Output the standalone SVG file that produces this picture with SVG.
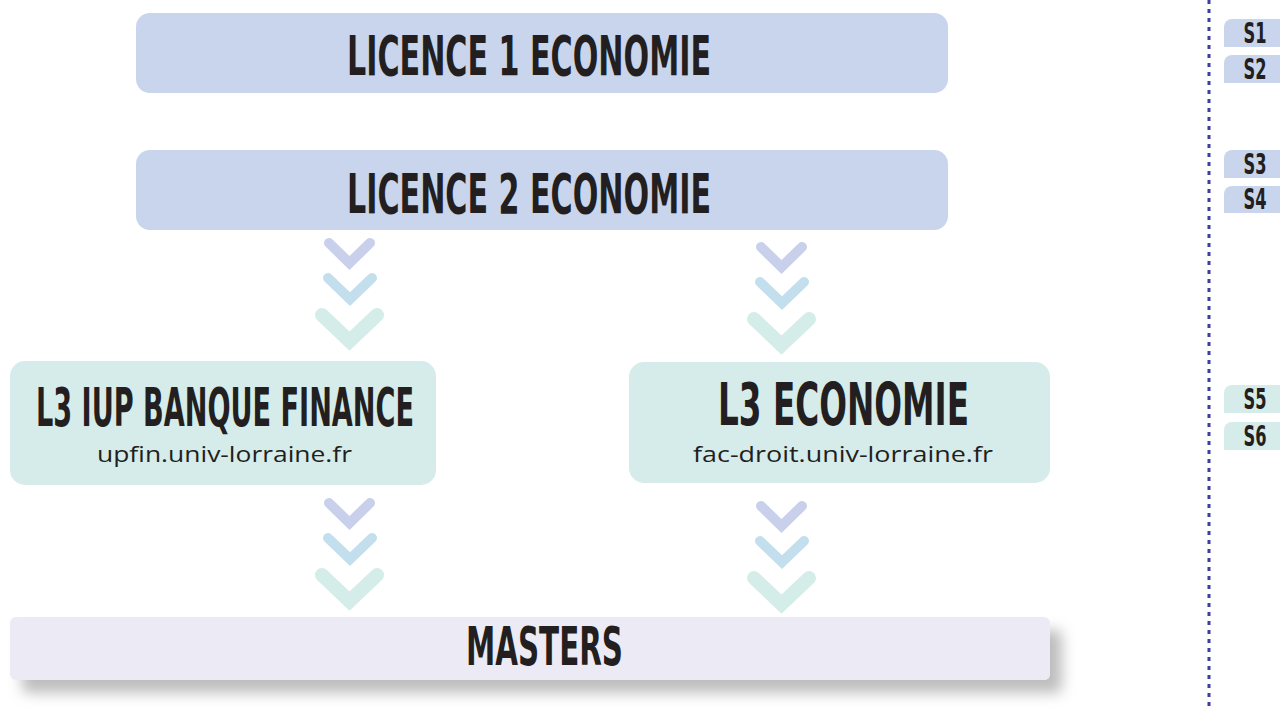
<svg xmlns="http://www.w3.org/2000/svg" width="1280" height="709" viewBox="0 0 1280 709">
<defs>
<style>
.title{font-family:"Liberation Sans Narrow","DejaVu Sans Condensed","Liberation Sans",sans-serif;font-weight:bold;fill:#231f20;text-anchor:middle}
.url{font-family:"Open Sans","Noto Sans","Liberation Sans",sans-serif;fill:#231f20;text-anchor:middle}
.blue{fill:#c9d5ec}
.mint{fill:#d6ecea}
.c1{fill:none;stroke:#c8d0ec;stroke-width:10;stroke-linecap:round;stroke-linejoin:miter}
.c2{fill:none;stroke:#c3dfed;stroke-width:10;stroke-linecap:round;stroke-linejoin:miter}
.c3{fill:none;stroke:#d5ede9;stroke-width:14;stroke-linecap:round;stroke-linejoin:miter}
.stab{font-family:"Liberation Sans Narrow","DejaVu Sans Condensed","Liberation Sans",sans-serif;font-weight:bold;font-size:28px;fill:#231f20;text-anchor:middle}
</style>
<filter id="shadow" x="-5%" y="-30%" width="115%" height="200%">
<feDropShadow dx="12" dy="13" stdDeviation="7" flood-color="#000" flood-opacity="0.26"/>
</filter>
<g id="chev">
<path class="c1" d="M329,243 L349.5,263 L370,243"/>
<path class="c2" d="M328,278 L350,299 L372,278"/>
<path class="c3" d="M322,315 L349.5,341 L377,315"/>
</g>
</defs>
<rect width="1280" height="709" fill="#ffffff"/>

<g id="connectors">
<use href="#chev"/>
<use href="#chev" transform="translate(432,4)"/>
<use href="#chev" transform="translate(0,260)"/>
<use href="#chev" transform="translate(432,263)"/>
</g>

<g id="licence1">
<rect class="blue" x="136" y="13" width="812" height="80" rx="14"/>
<text class="title" x="529" y="75" font-size="56" textLength="364" lengthAdjust="spacingAndGlyphs">LICENCE 1 ECONOMIE</text>
</g>

<g id="licence2">
<rect class="blue" x="136" y="150" width="812" height="80" rx="14"/>
<text class="title" x="529" y="213" font-size="56" textLength="364" lengthAdjust="spacingAndGlyphs">LICENCE 2 ECONOMIE</text>
</g>

<g id="l3iup">
<rect class="mint" x="10" y="361" width="426" height="124" rx="15"/>
<text class="title" x="225" y="426" font-size="53" textLength="378" lengthAdjust="spacingAndGlyphs">L3 IUP BANQUE FINANCE</text>
<text class="url" x="224.5" y="462" font-size="21" textLength="255" lengthAdjust="spacingAndGlyphs">upfin.univ-lorraine.fr</text>
</g>

<g id="l3eco">
<rect class="mint" x="629" y="362" width="421" height="121" rx="15"/>
<text class="title" x="843.5" y="425" font-size="58" textLength="251" lengthAdjust="spacingAndGlyphs">L3 ECONOMIE</text>
<text class="url" x="843" y="462" font-size="21" textLength="300" lengthAdjust="spacingAndGlyphs">fac-droit.univ-lorraine.fr</text>
</g>

<g id="masters">
<rect x="10" y="617" width="1040" height="63" rx="6" fill="#ecebf5" filter="url(#shadow)"/>
<text class="title" x="544.5" y="665" font-size="53" textLength="157" lengthAdjust="spacingAndGlyphs">MASTERS</text>
</g>

<g id="timeline">
<line x1="1209" y1="0" x2="1209" y2="709" stroke="#3b3f9e" stroke-width="3" stroke-dasharray="4 5"/>
</g>

<g id="s1">
<path class="blue" d="M1224,47 V27 A8,8 0 0 1 1232,19 H1280 V47 Z"/>
<text class="stab" x="1255" y="43" textLength="23" lengthAdjust="spacingAndGlyphs">S1</text>
</g>
<g id="s2">
<path class="blue" d="M1224,83 V63 A8,8 0 0 1 1232,55 H1280 V83 Z"/>
<text class="stab" x="1255" y="79" textLength="23" lengthAdjust="spacingAndGlyphs">S2</text>
</g>
<g id="s3">
<path class="blue" d="M1224,178 V158 A8,8 0 0 1 1232,150 H1280 V178 Z"/>
<text class="stab" x="1255" y="174" textLength="23" lengthAdjust="spacingAndGlyphs">S3</text>
</g>
<g id="s4">
<path class="blue" d="M1224,213 V194 A8,8 0 0 1 1232,186 H1280 V213 Z"/>
<text class="stab" x="1255" y="209" textLength="23" lengthAdjust="spacingAndGlyphs">S4</text>
</g>
<g id="s5">
<path class="mint" d="M1224,413 V393 A8,8 0 0 1 1232,385 H1280 V413 Z"/>
<text class="stab" x="1255" y="409" textLength="23" lengthAdjust="spacingAndGlyphs">S5</text>
</g>
<g id="s6">
<path class="mint" d="M1224,450 V430 A8,8 0 0 1 1232,422 H1280 V450 Z"/>
<text class="stab" x="1255" y="446" textLength="23" lengthAdjust="spacingAndGlyphs">S6</text>
</g>
</svg>
